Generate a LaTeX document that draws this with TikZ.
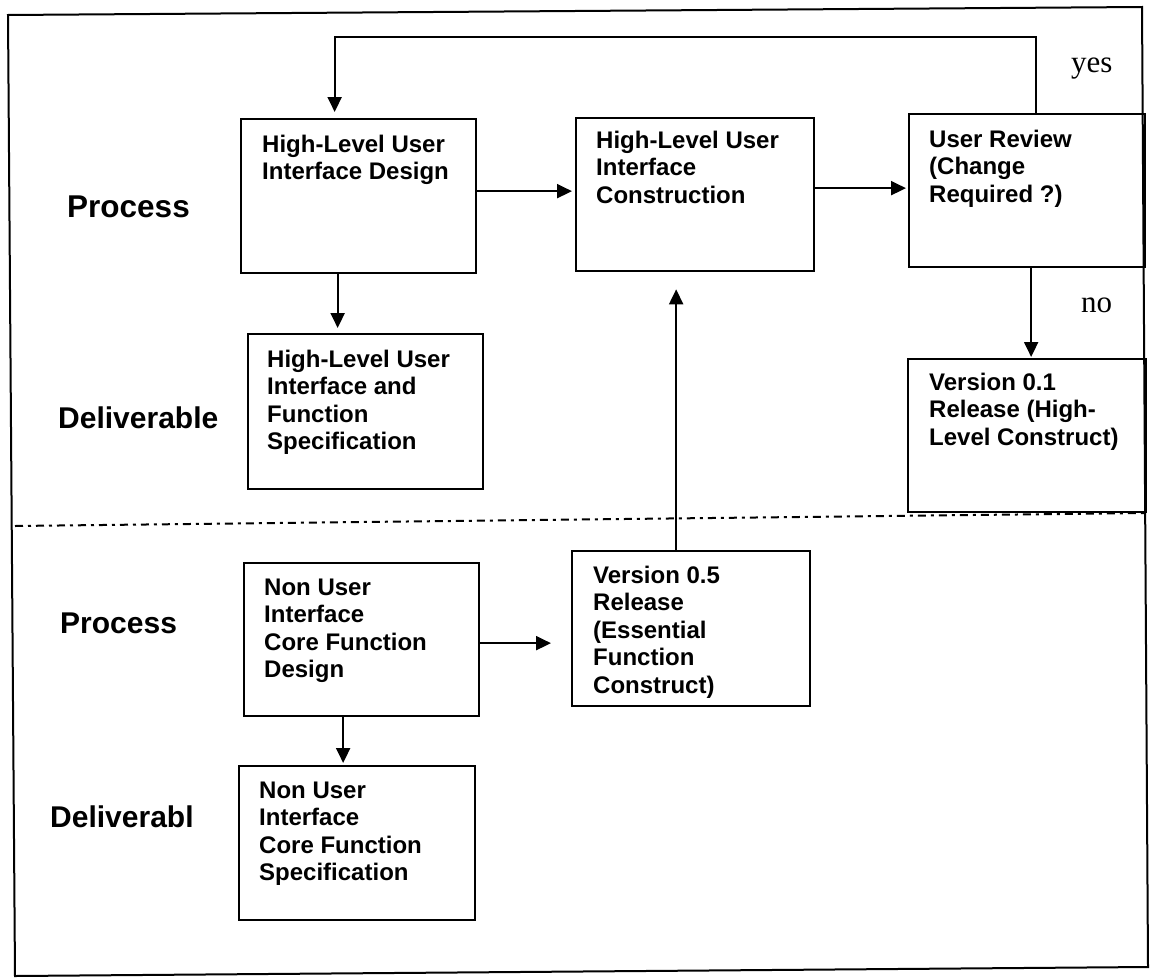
\documentclass[tikz,border=0pt]{standalone}
\usepackage{fontspec}
\newfontfamily\lsans{Liberation Sans}
\newfontfamily\lserif{Liberation Serif}
\usetikzlibrary{arrows.meta}
\begin{document}
\begin{tikzpicture}[x=1pt,y=-1pt,
  box/.style={draw, line width=2.3pt, anchor=north west, inner sep=0pt},
  txt/.style={anchor=base west, inner sep=0pt, font=\lsans\bfseries\fontsize{24}{27.6}\selectfont},
  lane/.style={anchor=base west, inner sep=0pt, font=\lsans\bfseries\fontsize{30}{34}\selectfont},
  yn/.style={anchor=base west, inner sep=0pt, font=\lserif\fontsize{31}{36}\selectfont},
  arr/.style={line width=2pt, -{Triangle[length=15pt,width=14pt]}},
  frame/.style={line width=2pt},
  sep/.style={line width=2pt, dash pattern=on 8pt off 5pt on 3pt off 5pt}]
\useasboundingbox (0,0) rectangle (1156,977);
\fill[white] (0,0) rectangle (1156,977);

% outer frame
\draw[frame] (8,15) -- (1142,7) -- (1148,967) -- (15,976) -- cycle;
% separator
\draw[sep] (15,526) -- (1147,513);

% boxes
\node[box, minimum width=235pt, minimum height=154pt] (A) at (240,118) {};
\node[box, minimum width=238pt, minimum height=153pt] (B) at (575,117) {};
\node[box, minimum width=236pt, minimum height=153pt] (D) at (908,113) {};
\node[box, minimum width=235pt, minimum height=155pt] (C) at (247,333) {};
\node[box, minimum width=238pt, minimum height=153pt] (E) at (907,358) {};
\node[box, minimum width=235pt, minimum height=153pt] (F) at (243,562) {};
\node[box, minimum width=238pt, minimum height=155pt] (G) at (571,550) {};
\node[box, minimum width=236pt, minimum height=154pt] (H) at (238,765) {};

% box texts
\node[txt] (At) at (262,152) {\parbox[t]{215pt}{\raggedright High-Level User\\Interface Design}};
\node[txt] (Bt) at (596,148) {\parbox[t]{215pt}{\raggedright High-Level User\\Interface\\Construction}};
\node[txt] (Dt) at (929,147) {\parbox[t]{215pt}{\raggedright User Review\\(Change\\Required ?)}};
\node[txt] (Ct) at (267,367) {\parbox[t]{215pt}{\raggedright High-Level User\\Interface and\\Function\\Specification}};
\node[txt] (Et) at (929,390) {\parbox[t]{215pt}{\raggedright Version 0.1\\Release (High-\\Level Construct)}};
\node[txt] (Ft) at (264,595) {\parbox[t]{215pt}{\raggedright Non User\\Interface\\Core Function\\Design}};
\node[txt] (Gt) at (593,583) {\parbox[t]{215pt}{\raggedright Version 0.5\\Release\\(Essential\\Function\\Construct)}};
\node[txt] (Ht) at (259,798) {\parbox[t]{215pt}{\raggedright Non User\\Interface\\Core Function\\Specification}};

% lane labels
\node[lane, font=\lsans\bfseries\fontsize{31.5}{34}\selectfont] (L1) at (67,217) {Process};
\node[lane] (L2) at (58,428) {Deliverable};
\node[lane] (L3) at (60,633) {Process};
\node[lane] (L4) at (50,827) {Deliverabl};

% yes / no
\node[yn] (yes) at (1071,72) {yes};
\node[yn] (no) at (1081,312) {no};

% connectors
\coordinate (fb) at (0,37);
\draw[arr, shorten >=6pt] ([xshift=9pt]D.north) -- ([xshift=9pt]D.north |- fb) -| ([xshift=-24pt]A.north);
\draw[arr, shorten >=3pt] ([yshift=5pt]A.east) -- ([yshift=5pt]A.east -| B.west);
\draw[arr, shorten >=2pt] ([yshift=6.5pt]B.east) -- ([yshift=6.5pt]B.east -| D.west);
\draw[arr, shorten >=1pt] ([xshift=4pt]D.south) -- ([xshift=4pt]D.south |- E.north);
\draw[arr, shorten >=5pt] ([xshift=-21pt]A.south) -- ([xshift=-21pt]A.south |- C.north);
\draw[arr, shorten >=17pt] ([xshift=-15pt]G.north) -- ([xshift=-15pt]G.north |- B.south);
\draw[arr, shorten >=20pt] ([yshift=-3.5pt]F.east) -- ([yshift=-3.5pt]F.east -| G.west);
\draw[arr, shorten >=2pt] ([xshift=-18.5pt]F.south) -- ([xshift=-18.5pt]F.south |- H.north);
\end{tikzpicture}
\end{document}
